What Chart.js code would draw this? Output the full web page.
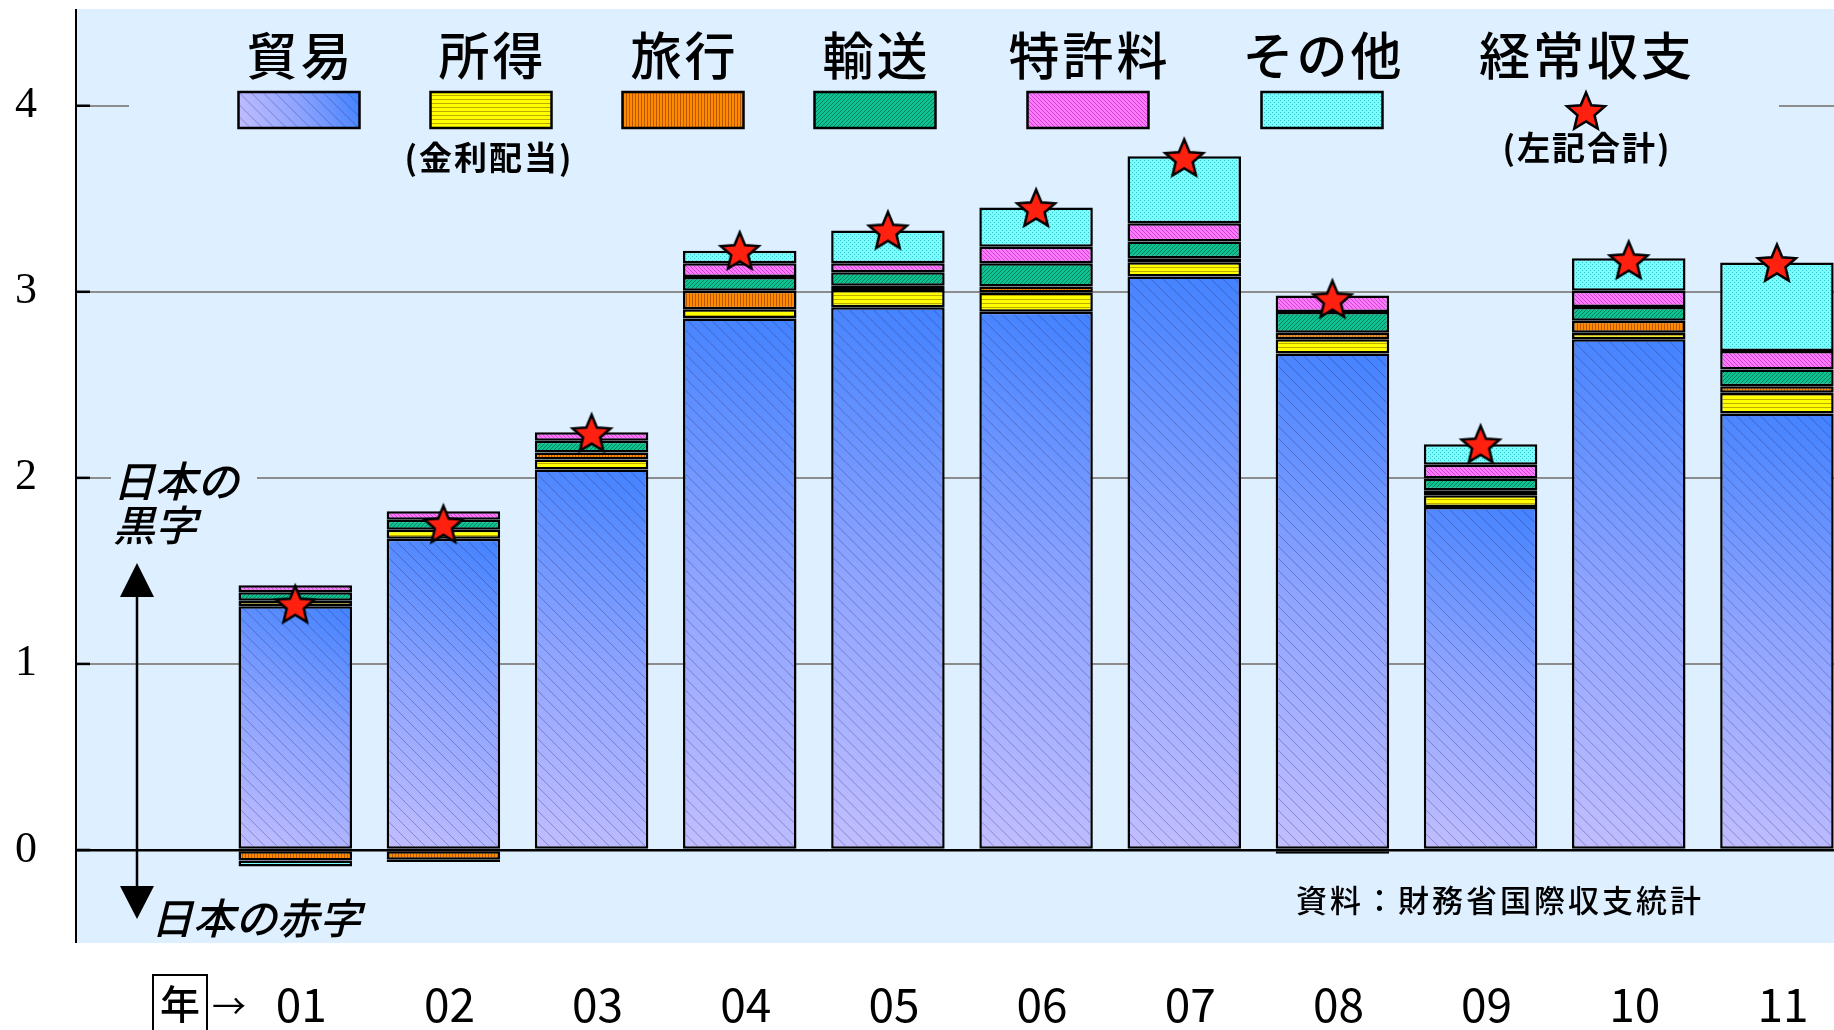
<!DOCTYPE html>
<html>
<head>
<meta charset="utf-8">
<script src="https://cdn.jsdelivr.net/npm/chart.js@4.4.1/dist/chart.umd.min.js"></script>
<style>
  html, body { margin: 0; padding: 0; overflow: hidden; background: #fff; }
  canvas { display: block; }
</style>
</head>
<body>
<canvas id="bopChart" width="1851" height="1030"></canvas>
<script>
// 年 (2001-2011)
const categories = ['01', '02', '03', '04', '05', '06', '07', '08', '09', '10', '11'];

// series values
const trade     = [1.31, 1.673, 2.045, 2.856, 2.917, 2.893, 3.082, 2.669, 1.843, 2.745, 2.346];
const income    = [0.03, 0.048, 0.054, 0.05, 0.093, 0.103, 0.077, 0.076, 0.063, 0.035, 0.111];
const travel    = [-0.057, -0.052, 0.037, 0.10, 0.022, 0.032, 0.022, 0.035, 0.027, 0.065, 0.036];
const transport = [0.045, 0.054, 0.063, 0.074, 0.073, 0.126, 0.089, 0.112, 0.063, 0.074, 0.09];
const patent    = [0.038, 0.046, 0.046, 0.074, 0.049, 0.088, 0.099, 0.088, 0.075, 0.086, 0.099];
const other     = [-0.032, -0.012, 0, 0.066, 0.176, 0.211, 0.359, -0.02, 0.11, 0.176, 0.475];
const current   = [1.32, 1.75, 2.24, 3.22, 3.33, 3.45, 3.72, 2.96, 2.18, 3.17, 3.155];

const seriesNames = ['貿易', '所得', '旅行', '輸送', '特許料', 'その他'];
const totalName = '経常収支';
const yTicks = [0, 1, 2, 3, 4];

const BG = '#DEEFFF';
const JP = '"Noto Sans CJK JP", "Noto Sans", sans-serif';
const BAR_PCT = 0.766;
const AXIS_X = 76;   // the drawn y axis sits a little right of the category origin

const canvas = document.getElementById('bopChart');
const ctx = canvas.getContext('2d');

// small repeating fill patterns (like the old office-chart hatches)
function pattern(w, h, base, ink, pixels) {
    const c = document.createElement('canvas');
    c.width = w; c.height = h;
    const g = c.getContext('2d');
    g.fillStyle = base;
    g.fillRect(0, 0, w, h);
    g.fillStyle = ink;
    pixels.forEach(p => g.fillRect(p[0], p[1], 1, 1));
    return ctx.createPattern(c, 'repeat');
}

const incomeFill    = pattern(1, 4, '#FFFF00', '#C0AA00', [[0, 3]]);
const travelFill    = pattern(3, 1, '#FF8A00', '#B85800', [[2, 0]]);
const transportFill = pattern(4, 4, '#0CC492', '#00805C', [[0, 3], [1, 2], [2, 1], [3, 0]]);
const patentFill    = pattern(4, 4, '#FF78FF', '#C848C8', [[0, 0], [1, 1], [2, 2], [3, 3]]);
const otherFill     = pattern(4, 4, '#78FFFF', '#3CC0C8', [[0, 0], [2, 2]]);

// red star used as the point style for 経常収支
function makeStar(R, r) {
    const c = document.createElement('canvas');
    const s = Math.ceil(R * 2 + 6);
    c.width = s; c.height = s;
    const g = c.getContext('2d');
    g.beginPath();
    for (let i = 0; i < 10; i++) {
        const a = -Math.PI / 2 + i * Math.PI / 5;
        const rad = i % 2 ? r : R;
        const px = s / 2 + rad * Math.cos(a), py = s / 2 + rad * Math.sin(a) + 1.5;
        if (i === 0) g.moveTo(px, py); else g.lineTo(px, py);
    }
    g.closePath();
    g.fillStyle = '#FF2010';
    g.fill();
    g.lineWidth = 2.5;
    g.strokeStyle = '#000';
    g.stroke();
    return c;
}
const starImg = makeStar(20, 9);

function tradeGradient(g, l, b, r, t) {
    const grad = g.createLinearGradient(l, b, r, t);
    grad.addColorStop(0, '#C2BEFF');
    grad.addColorStop(0.5, '#8EA4FF');
    grad.addColorStop(1, '#4282FF');
    return grad;
}

function tradeFill(c) {
    const chart = c.chart;
    if (!chart.chartArea || c.raw == null) return '#8EA4FF';
    const xs = chart.scales.x, ys = chart.scales.y;
    const x = xs.getPixelForValue(c.dataIndex);
    const half = xs.width / xs.getLabels().length * BAR_PCT / 2;
    return tradeGradient(chart.ctx, x - half, ys.getPixelForValue(0), x + half, ys.getPixelForValue(c.raw));
}

function hatch(g, l, t, r, b, step) {
    g.save();
    g.beginPath();
    g.rect(l, t, r - l, b - t);
    g.clip();
    g.strokeStyle = 'rgba(40, 40, 100, 0.35)';
    g.lineWidth = 1;
    g.beginPath();
    const h = b - t;
    for (let d = -h; d < r - l; d += step) {
        g.moveTo(l + d, t);
        g.lineTo(l + d + h, b);
    }
    g.stroke();
    g.restore();
}

const labels = [''].concat(categories);
const pad = arr => [null].concat(arr);
const fills = [tradeFill, incomeFill, travelFill, transportFill, patentFill, otherFill];
const values = [trade, income, travel, transport, patent, other];

const barSets = values.map((v, i) => ({
    type: 'bar',
    label: seriesNames[i],
    data: pad(v),
    backgroundColor: fills[i],
    borderColor: '#000',
    borderWidth: 2.5,
    borderSkipped: false,
    stack: 'bop',
    order: 1,
    barPercentage: BAR_PCT,
    categoryPercentage: 1
}));

const starSet = {
    type: 'line',
    label: totalName,
    data: pad(current),
    showLine: false,
    pointStyle: starImg,
    pointRadius: 20,
    stack: 'total',
    order: 0
};

const decorations = {
    id: 'decorations',
    beforeDraw(chart) {
        const g = chart.ctx, a = chart.chartArea;
        g.save();
        g.fillStyle = '#fff';
        g.fillRect(0, 0, chart.width, chart.height);
        g.fillStyle = BG;
        g.fillRect(AXIS_X, a.top, a.right - AXIS_X, a.bottom - a.top);
        g.restore();
    },
    beforeDatasetsDraw(chart) {
        const g = chart.ctx, a = chart.chartArea, ys = chart.scales.y;
        g.save();
        // white strip left of the axis, then the axis itself
        g.fillStyle = '#fff';
        g.fillRect(a.left - 1, a.top, AXIS_X - a.left + 1, a.bottom - a.top);
        g.strokeStyle = '#000';
        g.lineWidth = 2;
        g.beginPath();
        g.moveTo(AXIS_X, a.top);
        g.lineTo(AXIS_X, a.bottom);
        g.stroke();
        // short black ticks inside the axis
        g.lineWidth = 2.5;
        yTicks.forEach(v => {
            const y = ys.getPixelForValue(v);
            g.beginPath();
            g.moveTo(AXIS_X, y);
            g.lineTo(AXIS_X + 14, y);
            g.stroke();
        });
        // legend box and label box hide the grid lines
        g.fillStyle = BG;
        g.fillRect(129, 30, 1650, 120);
        g.fillRect(111, 455, 146, 85);
        g.restore();
    },
    afterDatasetDraw(chart, args) {
        if (args.index !== 0) return;   // 貿易 bars get the diagonal hatch
        const g = chart.ctx, bw = 2.5;
        args.meta.data.forEach((el, i) => {
            if (values[0][i - 1] == null) return;
            const p = el.getProps(['x', 'y', 'base', 'width'], true);
            hatch(g, p.x - p.width / 2 + bw, Math.min(p.y, p.base) + bw,
                  p.x + p.width / 2 - bw, Math.max(p.y, p.base) - bw, 12);
        });
    },
    afterDraw(chart) {
        const g = chart.ctx;
        g.save();
        // legend
        const cx = [299, 491, 683, 875, 1088, 1322];
        const sw = 121, sh = 36, st = 92;
        g.textAlign = 'center';
        g.textBaseline = 'middle';
        g.fillStyle = '#000';
        g.font = '500 51px ' + JP;
        g.letterSpacing = '3px';
        seriesNames.forEach((name, i) => g.fillText(name, cx[i] + 1.5, 56));
        g.fillText(totalName, 1587, 56);
        g.letterSpacing = '0px';
        seriesNames.forEach((name, i) => {
            const l = cx[i] - sw / 2;
            if (i === 0) {
                g.fillStyle = tradeGradient(g, l, st + sh, l + sw, st);
                g.fillRect(l, st, sw, sh);
                hatch(g, l, st, l + sw, st + sh, 12);
            } else {
                g.fillStyle = fills[i];
                g.fillRect(l, st, sw, sh);
            }
            g.strokeStyle = '#000';
            g.lineWidth = 2.5;
            g.strokeRect(l, st, sw, sh);
        });
        g.drawImage(starImg, 1586 - starImg.width / 2, 111 - starImg.height / 2);
        g.fillStyle = '#000';
        g.font = 'bold 33px ' + JP;
        g.letterSpacing = '2px';
        g.fillText('(金利配当)', 489, 157);
        g.fillText('(左記合計)', 1587, 147);
        g.letterSpacing = '0px';

        // 黒字 / 赤字 notes with the double arrow
        g.textAlign = 'left';
        g.font = 'italic 500 42px ' + JP;
        g.fillText('日本の', 113, 481);
        g.fillText('黒字', 113, 525);
        g.fillText('日本の赤字', 151, 918);
        g.strokeStyle = '#000';
        g.lineWidth = 2.5;
        g.beginPath();
        g.moveTo(137, 590);
        g.lineTo(137, 892);
        g.stroke();
        g.beginPath();
        g.moveTo(137, 563); g.lineTo(120, 597); g.lineTo(154, 597); g.closePath();
        g.moveTo(137, 919); g.lineTo(120, 886); g.lineTo(154, 886); g.closePath();
        g.fill();

        // source
        g.font = '500 31px ' + JP;
        g.letterSpacing = '3px';
        g.fillText('資料：財務省国際収支統計', 1296, 900);
        g.letterSpacing = '0px';

        // 年→ marker
        g.lineWidth = 2;
        g.strokeRect(153, 975, 54, 60);
        g.textAlign = 'center';
        g.font = '500 40px ' + JP;
        g.fillText('年', 180, 1004);
        g.font = '34px ' + JP;
        g.fillText('→', 229, 1006);
        g.restore();
    }
};

new Chart(ctx, {
    data: { labels: labels, datasets: barSets.concat([starSet]) },
    options: {
        responsive: false,
        animation: false,
        layout: { autoPadding: false, padding: { left: 0, right: 0, top: 9, bottom: 0 } },
        plugins: { legend: { display: false }, tooltip: { enabled: false } },
        scales: {
            x: {
                type: 'category',
                offset: true,
                stacked: true,
                grid: { display: false, drawTicks: false },
                border: { display: false },
                ticks: {
                    color: '#000',
                    font: { family: JP, size: 46 },
                    padding: 34,
                    labelOffset: 6,
                    maxRotation: 0,
                    autoSkip: false
                },
                afterFit(s) {
                    s.height = 87;
                    s.paddingLeft = 0; s.paddingRight = 0;
                    s.paddingTop = 0; s.paddingBottom = 0;
                }
            },
            y: {
                stacked: true,
                min: -0.5,
                max: 4.52,
                grid: {
                    drawTicks: false,
                    color: c => (c.tick && c.tick.value === 0 ? '#000' : '#8C8C8C'),
                    lineWidth: c => (c.tick && c.tick.value === 0 ? 2.5 : 2)
                },
                border: { display: false },
                ticks: {
                    color: '#000',
                    font: { family: '"Liberation Serif", "DejaVu Serif", serif', size: 44 },
                    padding: 36
                },
                afterBuildTicks(s) { s.ticks = yTicks.map(v => ({ value: v })); },
                afterFit(s) {
                    s.width = 73;
                    s.paddingTop = 0; s.paddingBottom = 0;
                    s.paddingLeft = 0; s.paddingRight = 0;
                }
            }
        }
    },
    plugins: [decorations]
});
</script>
</body>
</html>
